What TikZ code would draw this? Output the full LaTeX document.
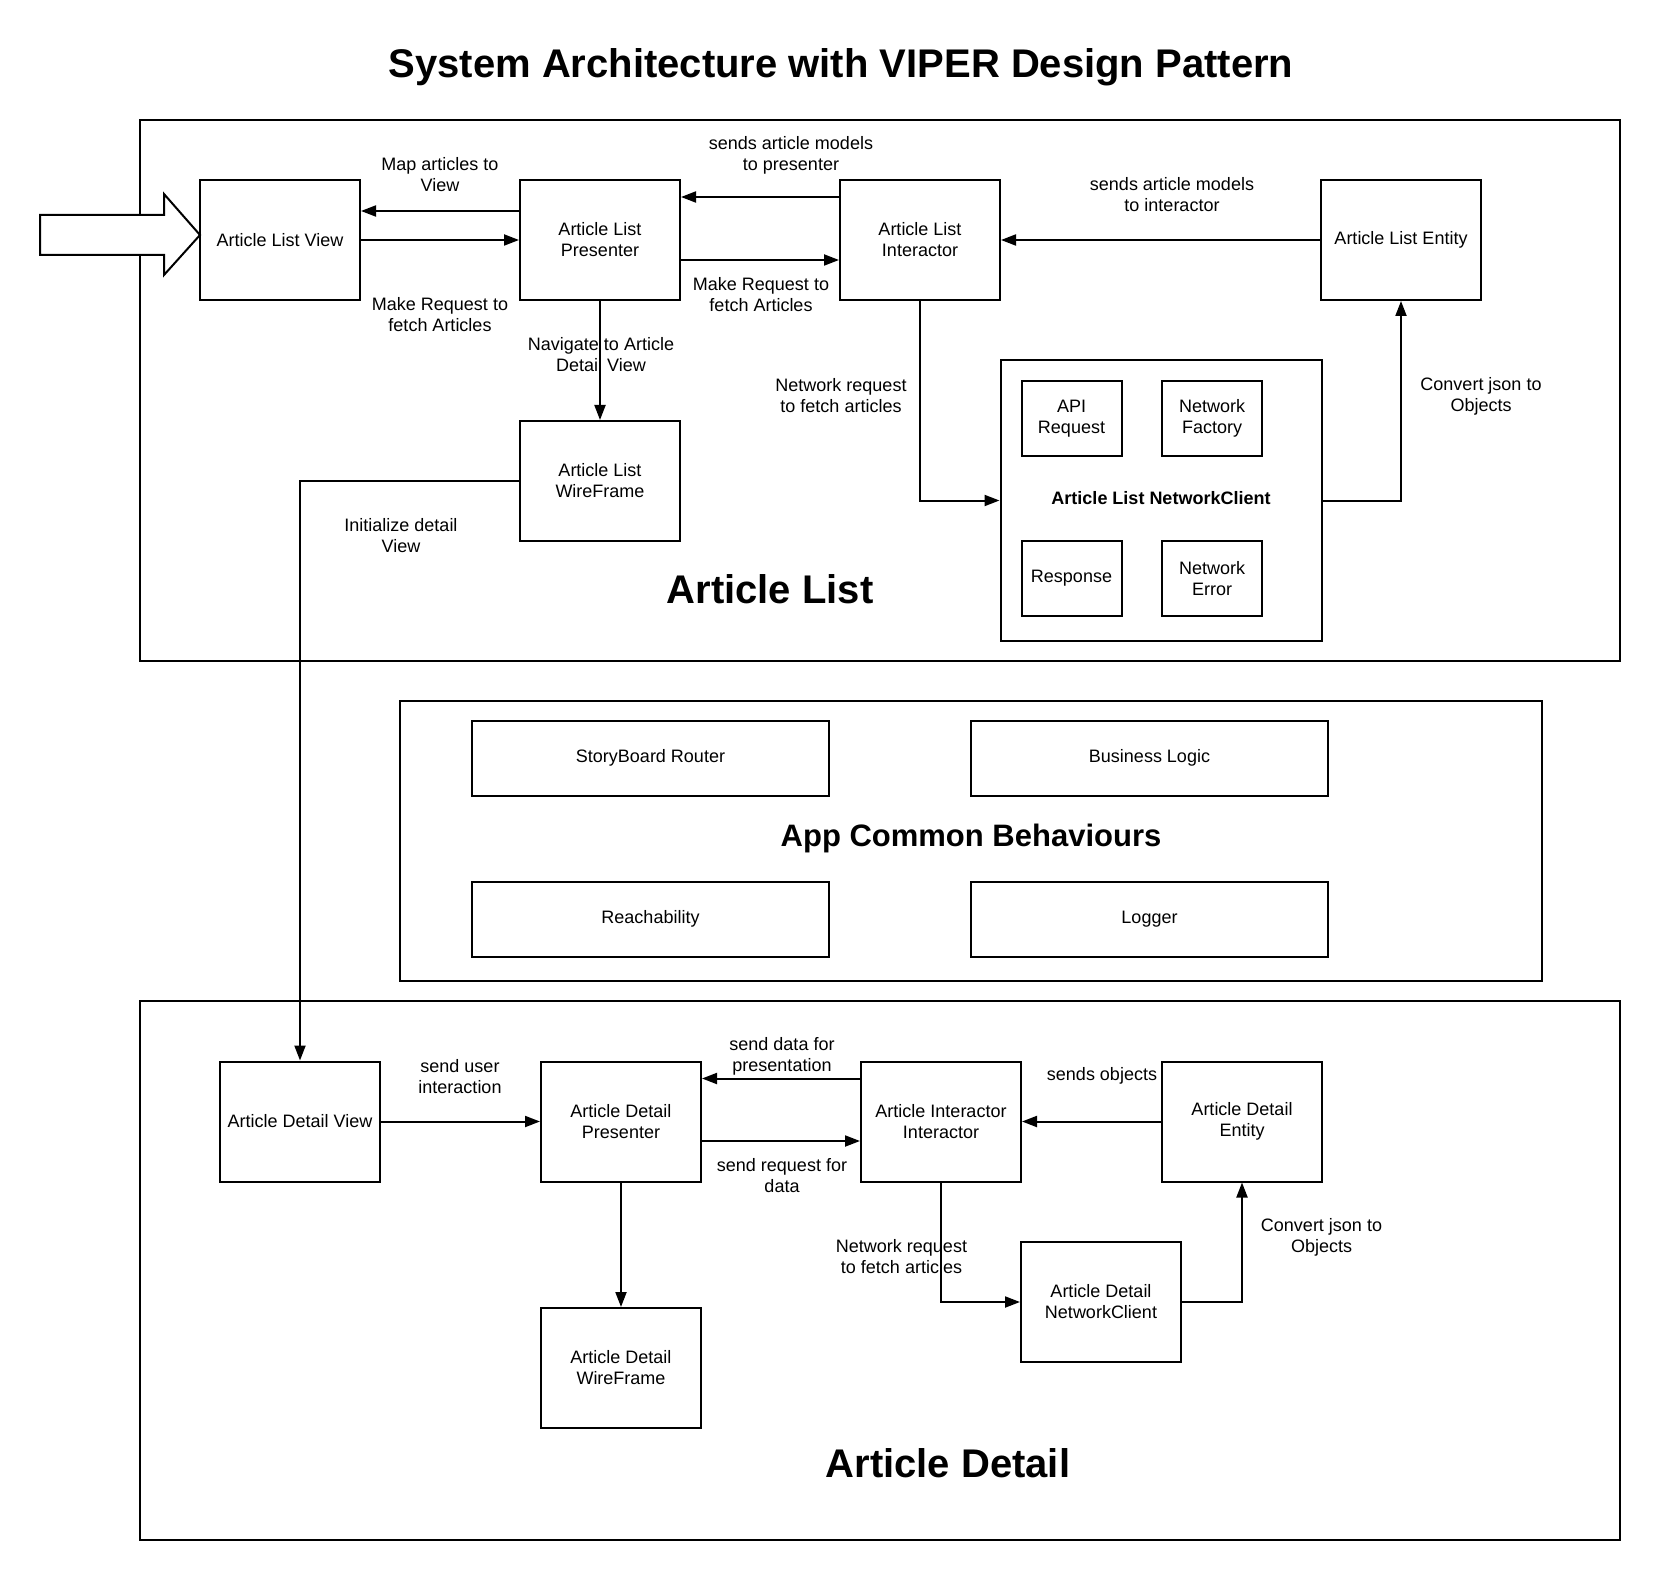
\documentclass[tikz,border=0pt]{standalone}
\usepackage{fontspec}
\setmainfont{Liberation Sans}
\usetikzlibrary{arrows.meta}
\tikzset{
  box/.style={draw, line width=2pt, inner sep=0pt, align=center, font=\fontsize{18}{21}\selectfont},
  sect/.style={draw, line width=2pt, inner sep=0pt},
  lbl/.style={align=center, inner sep=0pt, font=\fontsize{18}{21}\selectfont},
  big/.style={inner sep=0pt, font=\fontsize{40}{46}\selectfont\bfseries},
  arr/.style={line width=2pt, -{Triangle[length=15pt,width=11pt]}},
}
\begin{document}
\begin{tikzpicture}[x=1pt,y=-1pt]
\useasboundingbox (0,0) rectangle (1660,1586);
\fill[white] (0,0) rectangle (1660,1586);

% title
\node[big] (title) at (841,67) {System Architecture with VIPER Design Pattern};

% ===== Article List section =====
\node[sect, minimum width=1480pt, minimum height=541pt] (alsec) at (880,390.5) {};
\node[big] (altitle) at (770,589) {Article List};

\node[box, minimum width=160pt, minimum height=120pt] (ALV) at (280,240) {Article List View};
\node[box, minimum width=160pt, minimum height=120pt] (ALP) at (600,240) {Article List\\Presenter};
\node[box, minimum width=160pt, minimum height=120pt] (ALI) at (920,240) {Article List\\Interactor};
\node[box, minimum width=160pt, minimum height=120pt] (ALE) at (1401,240) {Article List Entity};
\node[box, minimum width=160pt, minimum height=120pt] (ALW) at (600,481) {Article List\\WireFrame};

\node[sect, minimum width=321pt, minimum height=280pt] (NC) at (1161,500.5) {};
\node[inner sep=0pt, font=\fontsize{18}{21}\selectfont\bfseries] (NClbl) at (1161,498.5) {Article List NetworkClient};
\node[box, minimum width=100pt, minimum height=75pt] (API) at (1071.5,418.5) {API\\Request};
\node[box, minimum width=100pt, minimum height=75pt] (NF) at (1212,418.5) {Network\\Factory};
\node[box, minimum width=100pt, minimum height=75pt] (RESP) at (1071.5,578.5) {Response};
\node[box, minimum width=100pt, minimum height=75pt] (NE) at (1212,578.5) {Network\\Error};

% entry arrow
\filldraw[fill=white, line width=2pt, line join=miter]
  (40,215) -- (164,215) -- (164,194) -- (200,235) -- (164,275) -- (164,255) -- (40,255) -- cycle;

% arrows
\draw[arr] ([yshift=29pt]ALP.west) -- ([yshift=29pt]ALV.east);
\draw[arr] (ALV.east) -- (ALP.west);
\draw[arr] ([yshift=43pt]ALI.west) -- ([yshift=43pt]ALP.east);
\draw[arr] ([yshift=-20pt]ALP.east) -- ([yshift=-20pt]ALI.west);
\draw[arr] (ALE.west) -- (ALI.east);
\draw[arr] (ALP.south) -- (ALW.north);
\draw[arr] (ALI.south) |- (NC.west);
\draw[arr] (NC.east) -| (ALE.south);

% labels
\node[lbl] (l1) at (440,175) {Map articles to\\View};
\node[lbl] (l2) at (440,315) {Make Request to\\fetch Articles};
\node[lbl] (l3) at (791,155) {sends article models\\to presenter};
\node[lbl] (l4) at (761,295) {Make Request to\\fetch Articles};
\node[lbl] (l5) at (601,355) {Navigate to Article\\Detail View};
\node[lbl] (l6) at (841,396) {Network request\\to fetch articles};
\node[lbl] (l7) at (1172,195) {sends article models\\to interactor};
\node[lbl] (l8) at (1481,396) {Convert json to\\Objects};
\node[lbl] (l9) at (401,536) {Initialize detail\\View};

% ===== App Common Behaviours =====
\node[sect, minimum width=1142pt, minimum height=280pt] (acsec) at (971,841) {};
\node[inner sep=0pt, font=\fontsize{31}{36}\selectfont\bfseries] (actitle) at (971,838) {App Common Behaviours};
\node[box, minimum width=357pt, minimum height=75pt] (SR) at (650.5,758) {StoryBoard Router};
\node[box, minimum width=357pt, minimum height=75pt] (BL) at (1149.5,758) {Business Logic};
\node[box, minimum width=357pt, minimum height=75pt] (RE) at (650.5,919) {Reachability};
\node[box, minimum width=357pt, minimum height=75pt] (LG) at (1149.5,919) {Logger};

% ===== Article Detail section =====
\node[sect, minimum width=1480pt, minimum height=539pt] (adsec) at (880,1270.5) {};
\node[big] (adtitle) at (948,1463) {Article Detail};

\node[box, minimum width=160pt, minimum height=120pt] (ADV) at (300,1121.5) {Article Detail View};
\node[box, minimum width=160pt, minimum height=120pt] (ADP) at (621,1121.5) {Article Detail\\Presenter};
\node[box, minimum width=160pt, minimum height=120pt] (ADI) at (941,1121.5) {Article Interactor\\Interactor};
\node[box, minimum width=160pt, minimum height=120pt] (ADE) at (1242,1121.5) {Article Detail\\Entity};
\node[box, minimum width=160pt, minimum height=120pt] (ADNC) at (1101,1302) {Article Detail\\NetworkClient};
\node[box, minimum width=160pt, minimum height=120pt] (ADW) at (621,1368) {Article Detail\\WireFrame};

% wireframe to detail view
\draw[arr] (ALW.west) -| (ADV.north);

\draw[arr] (ADV.east) -- (ADP.west);
\draw[arr] ([yshift=43pt]ADI.west) -- ([yshift=43pt]ADP.east);
\draw[arr] ([yshift=-19.5pt]ADP.east) -- ([yshift=-19.5pt]ADI.west);
\draw[arr] (ADE.west) -- (ADI.east);
\draw[arr] (ADP.south) -- (ADW.north);
\draw[arr] (ADI.south) |- (ADNC.west);
\draw[arr] (ADNC.east) -| (ADE.south);

\node[lbl] (m1) at (460,1076.5) {send user\\interaction};
\node[lbl] (m2) at (782,1056) {send data for\\presentation};
\node[lbl] (m3) at (782,1176) {send request for\\data};
\node[lbl] (m4) at (1102,1076) {sends objects};
\node[lbl] (m5) at (901.5,1257) {Network request\\to fetch articles};
\node[lbl] (m6) at (1321.5,1237) {Convert json to\\Objects};
\end{tikzpicture}
\end{document}
